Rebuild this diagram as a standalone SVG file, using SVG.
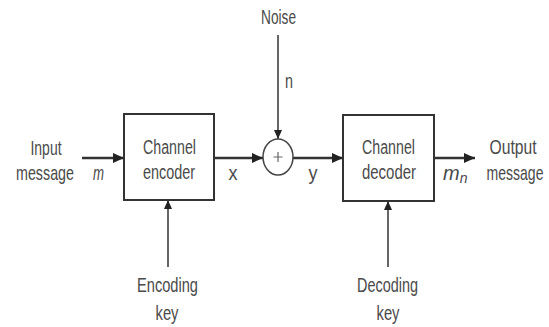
<svg xmlns="http://www.w3.org/2000/svg" width="549" height="327" viewBox="0 0 549 327">
<style>
text{font-family:"Liberation Sans",Arial,sans-serif;font-size:20px;fill:#4a4a4a;text-anchor:middle}
.it{font-style:italic}
.box{fill:#fff;stroke:#333;stroke-width:2}
.sum{fill:#fff;stroke:#444;stroke-width:1.5}
.h{stroke:#333;stroke-width:2.5;fill:none}
.v{stroke:#333;stroke-width:1.5;fill:none}
</style>
<defs>
<marker id="ah" markerUnits="userSpaceOnUse" markerWidth="12" markerHeight="10" refX="11" refY="5" orient="auto">
<path d="M0,0 L11,5 L0,10 Z" fill="#222"/>
</marker>
<marker id="av" markerUnits="userSpaceOnUse" markerWidth="10" markerHeight="8" refX="9" refY="4" orient="auto">
<path d="M0,0 L9,4 L0,8 Z" fill="#222"/>
</marker>
</defs>
<rect width="549" height="327" fill="#fff"/>
<g id="connectors">
<line class="h" x1="82" y1="158" x2="124" y2="158" marker-end="url(#ah)"/>
<line class="h" x1="214" y1="158" x2="263" y2="158" marker-end="url(#ah)"/>
<line class="v" x1="278" y1="35" x2="278" y2="139" marker-end="url(#av)"/>
<line class="h" x1="293" y1="158" x2="343" y2="158" marker-end="url(#ah)"/>
<line class="h" x1="434" y1="158" x2="475" y2="158" marker-end="url(#ah)"/>
<line class="v" x1="168" y1="267" x2="168" y2="200" marker-end="url(#av)"/>
<line class="v" x1="388" y1="267" x2="388" y2="201" marker-end="url(#av)"/>
<text x="289" y="88" textLength="8" lengthAdjust="spacingAndGlyphs">n</text>
<text x="233" y="180" textLength="9" lengthAdjust="spacingAndGlyphs">x</text>
<text x="313" y="180" textLength="9" lengthAdjust="spacingAndGlyphs">y</text>
<text class="it" x="98.5" y="180" textLength="11" lengthAdjust="spacingAndGlyphs">m</text>
<text class="it" x="443" y="180" style="text-anchor:start">m<tspan font-size="14" dy="3">n</tspan></text>
</g>
<g id="input">
<text x="46" y="155" textLength="31" lengthAdjust="spacingAndGlyphs">Input</text>
<text transform="translate(45,180) scale(0.715,1)">message</text>
</g>
<g id="encoder">
<rect class="box" x="124" y="114" width="90" height="86"/>
<text x="169.5" y="154" textLength="53" lengthAdjust="spacingAndGlyphs">Channel</text>
<text x="169" y="179" textLength="52" lengthAdjust="spacingAndGlyphs">encoder</text>
</g>
<g id="noise">
<text x="278.5" y="24" textLength="35" lengthAdjust="spacingAndGlyphs">Noise</text>
</g>
<g id="adder">
<ellipse class="sum" cx="278" cy="157" rx="15" ry="18"/>
<path d="M278,152 V162 M273.5,157 H282.5" stroke="#666" stroke-width="1.2"/>
</g>
<g id="decoder">
<rect class="box" x="343" y="115" width="91" height="86"/>
<text x="388.5" y="154" textLength="53" lengthAdjust="spacingAndGlyphs">Channel</text>
<text x="389" y="179" textLength="54" lengthAdjust="spacingAndGlyphs">decoder</text>
</g>
<g id="output">
<text x="513" y="154" textLength="47" lengthAdjust="spacingAndGlyphs">Output</text>
<text transform="translate(515,180) scale(0.703,1)">message</text>
</g>
<g id="encoding-key">
<text x="167.5" y="292" textLength="61" lengthAdjust="spacingAndGlyphs">Encoding</text>
<text x="167" y="320" textLength="23" lengthAdjust="spacingAndGlyphs">key</text>
</g>
<g id="decoding-key">
<text x="387.5" y="292" textLength="61" lengthAdjust="spacingAndGlyphs">Decoding</text>
<text x="388" y="320" textLength="23" lengthAdjust="spacingAndGlyphs">key</text>
</g>
</svg>
